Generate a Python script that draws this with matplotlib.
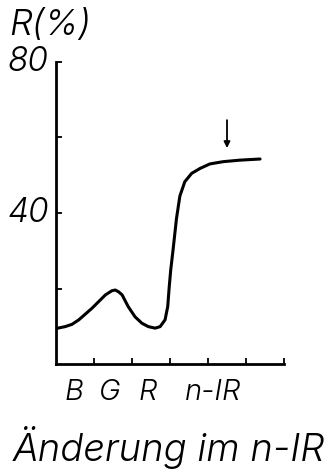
import matplotlib
matplotlib.use("Agg")
import matplotlib.pyplot as plt

# Data (x in band units, R in %)
wavelength = [0.05, 0.24, 0.42, 0.60, 0.77, 0.95, 1.12, 1.30, 1.47, 1.56, 1.65,
              1.74, 1.90, 2.08, 2.26, 2.43, 2.61, 2.74, 2.87, 2.94, 2.98, 3.02,
              3.08, 3.17, 3.26, 3.39, 3.57, 3.79, 4.05, 4.40, 4.84, 5.37]
reflectance = [9.5, 9.9, 10.5, 11.7, 13.2, 14.8, 16.5, 18.3, 19.4, 19.6, 19.1,
               18.3, 15.2, 12.5, 10.8, 9.9, 9.5, 9.9, 11.7, 15.2, 20.5, 25.0,
               30.2, 38.5, 44.5, 48.3, 50.5, 51.8, 53.0, 53.6, 54.0, 54.3]
band_labels = ["B", "G", "R", "n-IR"]
band_pos = [0.47, 1.42, 2.42, 4.13]
ytick_vals = [20, 40, 60, 80]
ytick_labels = ["", "40", "", "80"]
arrow_x = 4.5
arrow_from, arrow_to = 64.6, 57.2

FAM = ["Inter", "DejaVu Sans"]
plt.rcParams['font.family'] = FAM
W = 300

fig = plt.figure(figsize=(3.35, 4.73), dpi=100)
ax = fig.add_axes([56/335, 1-364/473, (284-56)/335, (364-62)/473])
ax.plot(wavelength, reflectance, color="black", lw=2.2,
        solid_capstyle="round", solid_joinstyle="round")
ax.set_xlim(0, 6)
ax.set_ylim(0, 80)
for s in ["top", "right"]:
    ax.spines[s].set_visible(False)
for s in ["left", "bottom"]:
    ax.spines[s].set_linewidth(2.0)
ax.set_xticks(range(1, 7))
ax.set_xticklabels([])
ax.set_yticks(ytick_vals)
ax.set_yticklabels(ytick_labels)
ax.tick_params(axis="both", direction="in", length=4, width=1.3)
ax.tick_params(axis="y", pad=5, labelsize=24)
for lbl in ax.get_yticklabels():
    lbl.set_style("italic")
    lbl.set_fontweight(W)
    lbl.set_verticalalignment("center")

for lab, pos in zip(band_labels, band_pos):
    ax.text(pos, -7.5, lab, ha="center", va="center", fontsize=21,
            style="italic", fontweight=W, transform=ax.transData, clip_on=False)

ax.annotate("", xy=(arrow_x, arrow_to), xytext=(arrow_x, arrow_from),
            arrowprops=dict(arrowstyle="-|>", color="black", lw=1.3,
                            mutation_scale=9, shrinkA=0, shrinkB=0))

fig.text(9/335, 1-25/473, "R(%)", ha="left", va="center", fontsize=26,
         style="italic", fontweight=W)
fig.text(169/335, 1-447/473, "Änderung im n-IR", ha="center", va="center",
         fontsize=27.5, style="italic", fontweight=W)

fig.savefig("out.png", dpi=100)
